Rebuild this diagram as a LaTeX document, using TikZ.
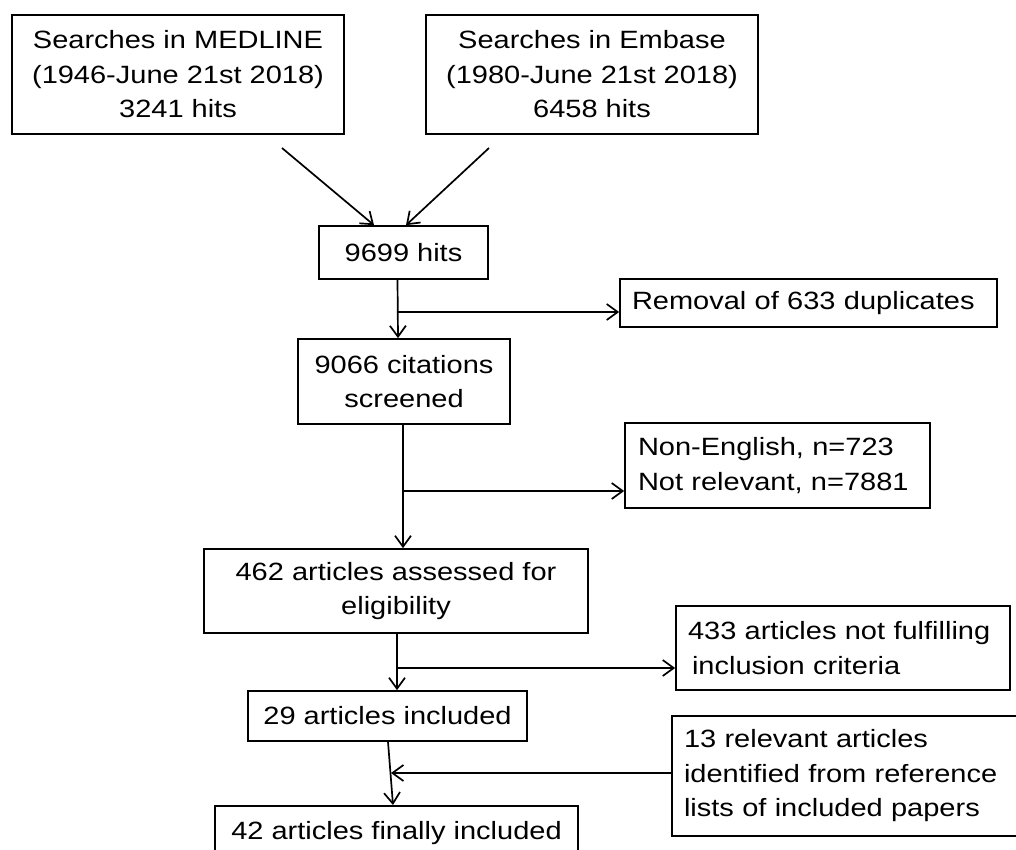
\documentclass[tikz,border=0pt]{standalone}
\usepackage{fontspec}
\setmainfont[FakeStretch=1.16]{Liberation Sans}
\usepackage{tikz}
\usetikzlibrary{arrows.meta,positioning}

\begin{document}
\begin{tikzpicture}[x=1pt, y=-1pt, line width=1.7pt,
  font=\fontsize{25}{34.5}\selectfont,
  box/.style={draw, inner sep=0pt, align=center},
  sidebox/.style={draw, inner xsep=12pt, inner ysep=0pt, align=left,
    execute at begin node={\hyphenpenalty=10000\exhyphenpenalty=10000}},
  arr/.style={-{Straight Barb[length=11pt,width=16pt]}}]
\clip (0,0) rectangle (1016,849);
% searches
\node[box, minimum width=332pt, minimum height=119pt] (med) at (178,74.5) {Searches in MEDLINE\\(1946-June 21st 2018)\\3241 hits};
\node[box, minimum width=332pt, minimum height=119pt] (emb) at (592,74.5) {Searches in Embase\\(1980-June 21st 2018)\\6458 hits};
% main column
\node[box, minimum width=169pt, minimum height=53pt] (hits) at (403.5,252.5) {9699 hits};
\node[box, minimum width=212pt, minimum height=85pt] (cit) at (404,381.5) {9066 citations\\screened};
\node[box, minimum width=384pt, minimum height=84pt] (elig) at (396,591) {462 articles assessed for\\eligibility};
\node[box, minimum width=279pt, minimum height=50pt] (incl) at (387.5,716) {29 articles included};
\node[box, anchor=north, minimum width=363pt, inner ysep=16pt] (final) at (396.5,805) {42 articles finally included};
% side boxes
\node[sidebox, text width=353pt, minimum height=48pt] (dup) at (808.5,303) {Removal of 633 duplicates};
\node[sidebox, text width=279pt, inner xsep=13pt, minimum height=85pt] (excl) at (777.5,465.5) {Non-English, n=723\\Not relevant, n=7881};
\node[sidebox, text width=310pt, minimum height=84pt] (notf) at (843,648) {433 articles not fulfilling\\\hspace*{4pt}inclusion criteria};
\node[sidebox, text width=322pt, minimum height=120pt] (refs) at (845,776) {13 relevant articles\\identified from reference\\lists of included papers};
% connectors
\coordinate (m1) at (282,148);
\coordinate (e1) at (489,148);
\coordinate (b1) at (397.5,312);
\coordinate (b2) at (403,491);
\coordinate (b3) at (397,668);
\coordinate (j) at (391,773);
\draw[arr] (m1) -- ([xshift=-29.5pt]hits.north);
\draw[arr] (e1) -- ([xshift=2.5pt]hits.north);
\draw[arr] ([xshift=-6pt]hits.south) -- ([xshift=-6pt]cit.north);
\draw[arr] (b1) -- (b1 -| dup.west);
\draw[arr] ([xshift=-1pt]cit.south) -- ([xshift=7pt]elig.north);
\draw[arr] (b2) -- (b2 -| excl.west);
\draw[arr] ([xshift=1pt]elig.south) -- ([xshift=9.5pt]incl.north);
\draw[arr] (b3) -- (b3 -| notf.west);
\draw[arr] ([xshift=0.5pt]incl.south) -- ([xshift=-3.5pt]final.north);
\draw[arr] (j -| refs.west) -- (j);
\end{tikzpicture}
\end{document}
